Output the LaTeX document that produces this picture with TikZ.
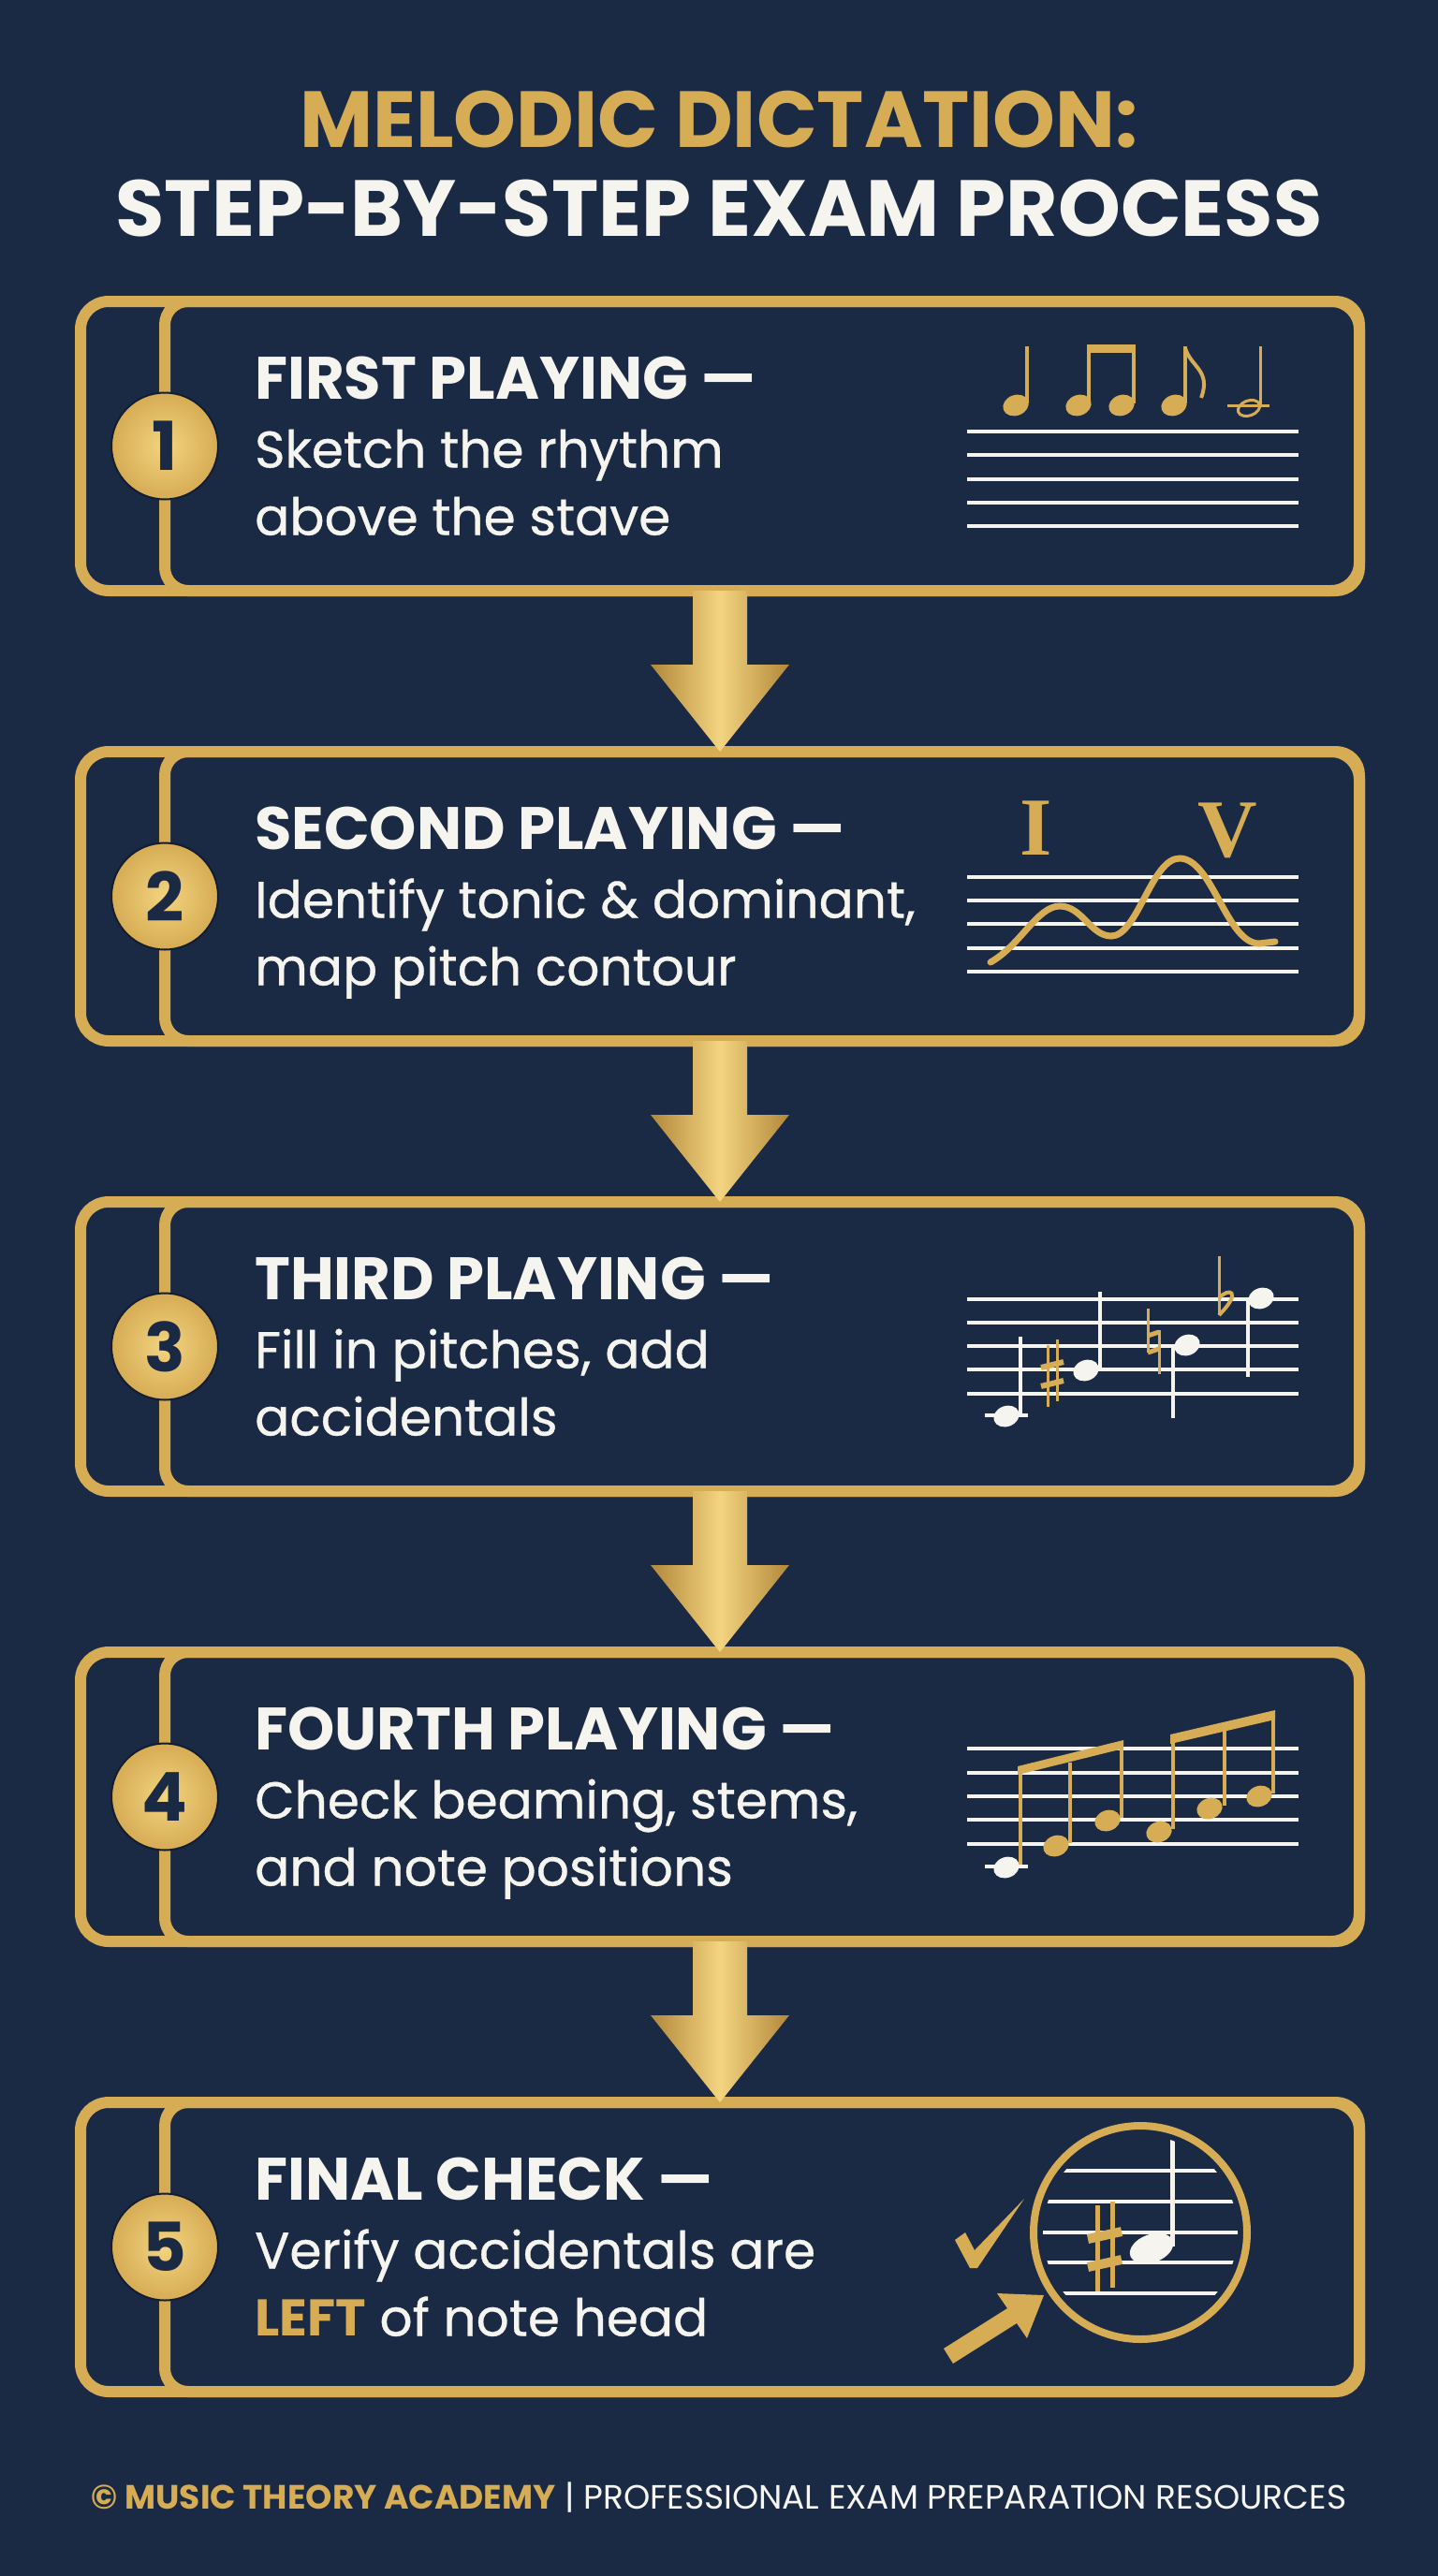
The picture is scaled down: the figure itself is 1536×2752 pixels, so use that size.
\documentclass[tikz,border=0pt]{standalone}
\usepackage{fontspec}
\setmainfont{Poppins}
\newfontfamily\medio{Poppins}[FakeBold=0.6]
\newfontfamily\serifa{Liberation Serif}
\usetikzlibrary{calc,positioning}
\definecolor{fondo}{RGB}{27,42,68}
\definecolor{oro}{RGB}{214,172,84}
\definecolor{oroclaro}{RGB}{243,212,128}
\definecolor{orooscuro}{RGB}{178,136,58}
\definecolor{blanco}{RGB}{246,244,238}
\newcommand\cabezanota[2]{\fill[#1, rotate around={20:(#2)}] (#2) ellipse (14 and 11);}
\begin{document}
\begin{tikzpicture}[x=1pt,y=-1pt,
    caja/.style={draw=oro,line width=12pt,rounded corners=30pt,minimum width=1366pt,minimum height=309pt,inner sep=0pt,outer sep=0pt},
    marco/.style={draw=oro,line width=12pt,rounded corners=25pt},
    numero/.style={circle,minimum size=114pt,inner sep=0pt,draw=fondo!70!black,line width=2pt,inner color=oroclaro,outer color=oro,text=fondo,font=\fontsize{72}{72}\selectfont\bfseries},
    cabeza/.style={anchor=base west,inner sep=0pt,text=blanco,font=\fontsize{64}{70}\selectfont\bfseries},
    texto/.style={anchor=base west,inner sep=0pt,text=blanco,font=\medio\fontsize{55}{64}\selectfont},
    flecha/.style={left color=orooscuro,right color=orooscuro,middle color=oroclaro},
    linea/.style={draw=blanco,line width=4pt},
    plica/.style={line width=4pt},
    simbolo/.style={draw=oro,line cap=butt}]
    %fondo
    \fill[fondo] (0,0) rectangle (1536,2752);
    \useasboundingbox (0,0) rectangle (1536,2752);
    %%%% TITULO!!!
    \node[anchor=base,text=oro,font=\fontsize{85}{88}\selectfont\bfseries] (titulo) at (768,157) {MELODIC DICTATION:};
    \node[anchor=base,text=blanco,font=\fontsize{85}{88}\selectfont\bfseries] (subtitulo) at (768,252) {STEP-BY-STEP EXAM PROCESS};
    %%%% CAJAS!!!
    \foreach \i/\cab/\la/\lb in {
        1/{FIRST PLAYING —}/{Sketch the rhythm}/{above the stave},
        2/{SECOND PLAYING —}/{Identify tonic \& dominant,}/{map pitch contour},
        3/{THIRD PLAYING —}/{Fill in pitches, add}/{accidentals},
        4/{FOURTH PLAYING —}/{Check beaming, stems,}/{and note positions},
        5/{FINAL CHECK —}/{Verify accidentals are}/{{\color{oro}\normalfont\fontsize{55}{64}\selectfont\bfseries LEFT} of note head}}
    {
        \pgfmathsetmacro\yc{476.5+481*(\i-1)}
        \node[caja] (caja\i) at (769,\yc) {};
        \draw[marco] ([xshift=90pt]caja\i.north west) rectangle (caja\i.south east);
        \node[numero] (num\i) at ([xshift=90pt]caja\i.west) {\i};
        \node[cabeza] (cab\i) at (272,\yc-50) {\cab};
        \node[texto] (txa\i) at (272,\yc+23) {\la};
        \node[texto] (txb\i) at (272,\yc+95) {\lb};
    }
    %%%% FLECHAS!!!
    \foreach \a/\b in {1/2,2/3,3/4,4/5}
        \shade[flecha] ($(caja\a.south)+(-29,0)$) -- ($(caja\a.south)+(29,0)$) -- ($(caja\a.south)+(29,79)$) -- ($(caja\a.south)+(74,79)$) -- (caja\b.north) -- ($(caja\a.south)+(-74,79)$) -- ($(caja\a.south)+(-29,79)$) -- cycle;
    %%%% DIBUJO 1: ritmo
    \foreach \y in {461,486,512,537,562} \draw[linea] (1033,\y) -- (1387,\y);
    \cabezanota{oro}{1085,433}
    \draw[oro,plica] (1097,370) -- (1097,431);
    \cabezanota{oro}{1152,433}
    \cabezanota{oro}{1198,433}
    \draw[oro,plica] (1163,372) -- (1163,431);
    \draw[oro,plica] (1211,372) -- (1211,431);
    \fill[oro] (1161,368) rectangle (1213,377);
    \cabezanota{oro}{1254,433}
    \draw[oro,plica] (1266,370) -- (1266,431);
    \draw[oro,line width=4pt] (1266,372) .. controls (1272,392) and (1294,396) .. (1283,425);
    \draw[oro,line width=3pt,rotate around={20:(1334,436)}] (1334,436) ellipse (12 and 8);
    \draw[oro,line width=3pt] (1311,433) -- (1356,433);
    \draw[oro,line width=3pt] (1346,370) -- (1346,434);
    %%%% DIBUJO 2: contorno
    \foreach \y in {937,962,987,1013,1038} \draw[linea] (1033,\y) -- (1387,\y);
    \node[anchor=base,text=oro,font=\serifa\bfseries\fontsize{88}{88}\selectfont,inner sep=0pt] (tonica) at (1107,913) {I};
    \node[anchor=base,text=oro,font=\serifa\bfseries\fontsize{88}{88}\selectfont,inner sep=0pt] (dominante) at (1311,915) {V};
    \draw[oro,line width=7pt,line cap=round] (1058,1028) .. controls (1090,1010) and (1108,968) .. (1132,968) .. controls (1156,968) and (1165,1000) .. (1187,1000) .. controls (1215,1000) and (1230,917) .. (1260,917) .. controls (1295,917) and (1310,1008) .. (1345,1008) -- (1362,1006);
    %%%% DIBUJO 3: alteraciones
    \foreach \y in {1388,1413,1438,1463,1489} \draw[linea] (1033,\y) -- (1387,\y);
    \draw[linea] (1052,1512) -- (1098,1512);
    \cabezanota{blanco}{1075,1513}
    \draw[blanco,plica] (1090,1428) -- (1090,1510);
    \cabezanota{blanco}{1160,1464}
    \draw[blanco,plica] (1175,1380) -- (1175,1461);
    \cabezanota{blanco}{1268,1437}
    \draw[blanco,plica] (1253,1440) -- (1253,1515);
    \cabezanota{blanco}{1347,1387}
    \draw[blanco,plica] (1333,1390) -- (1333,1471);
    %sostenido
    \begin{scope}[shift={(1124,1467)}]
        \draw[simbolo,line width=3pt] (-5,-30) -- (-5,36);
        \draw[simbolo,line width=3pt] (5,-36) -- (5,30);
        \draw[simbolo,line width=6pt] (-12,-6) -- (12,-12);
        \draw[simbolo,line width=6pt] (-12,14) -- (12,8);
    \end{scope}
    %becuadro
    \begin{scope}[shift={(1232,1433)}]
        \draw[simbolo,line width=3pt] (-6,-35) -- (-6,12);
        \draw[simbolo,line width=3pt] (6,-12) -- (6,35);
        \draw[simbolo,line width=5pt] (-6,-6) -- (6,-10);
        \draw[simbolo,line width=5pt] (-6,12) -- (6,8);
    \end{scope}
    %bemol
    \begin{scope}[shift={(1310,1375)}]
        \draw[simbolo,line width=3pt] (-8,-33) -- (-8,30);
        \draw[simbolo,line width=4pt] (-8,12) .. controls (2,0) and (18,4) .. (-8,30);
    \end{scope}
    %%%% DIBUJO 4: barras
    \foreach \y in {1868,1894,1919,1944,1970} \draw[linea] (1033,\y) -- (1387,\y);
    \draw[linea] (1052,1994) -- (1098,1994);
    \cabezanota{blanco}{1075,1995}
    \draw[oro,plica] (1090,1887) -- (1090,1992);
    \cabezanota{oro}{1128,1972}
    \draw[oro,plica] (1143,1883) -- (1143,1969);
    \cabezanota{oro}{1183,1945}
    \draw[oro,plica] (1198,1862) -- (1198,1942);
    \fill[oro] (1087,1887) -- (1200,1859) -- (1200,1868) -- (1087,1896) -- cycle;
    \cabezanota{oro}{1238,1957}
    \draw[oro,plica] (1253,1853) -- (1253,1954);
    \cabezanota{oro}{1292,1932}
    \draw[oro,plica] (1308,1840) -- (1308,1929);
    \cabezanota{oro}{1345,1919}
    \draw[oro,plica] (1360,1829) -- (1360,1916);
    \fill[oro] (1250,1853) -- (1362,1827) -- (1362,1837) -- (1250,1863) -- cycle;
    %%%% DIBUJO 5: lupa
    \begin{scope}
        \clip (1218,2385) circle (104);
        \foreach \y in {2319,2352,2385,2417,2450} \draw[linea] (1100,\y) -- (1340,\y);
        \draw[blanco,line width=5pt] (1252,2270) -- (1252,2400);
    \end{scope}
    \fill[blanco, rotate around={20:(1230,2402)}] (1230,2402) ellipse (24 and 15);
    \begin{scope}[shift={(1180,2400)}]
        \draw[simbolo,line width=5pt] (-8,-44) -- (-8,48);
        \draw[simbolo,line width=5pt] (8,-48) -- (8,44);
        \draw[simbolo,line width=10pt] (-18,-8) -- (18,-16);
        \draw[simbolo,line width=10pt] (-18,22) -- (18,14);
    \end{scope}
    \draw[oro,line width=8pt] (1218,2385) circle (114);
    %visto
    \fill[oro] (1020,2393) -- (1031,2385) -- (1041,2404) -- (1094,2349) -- (1044,2423) -- (1036,2423) -- cycle;
    %flecha lupa
    \fill[oro] (1008,2509) -- (1076,2466) -- (1065,2450) -- (1115,2452) -- (1097,2498) -- (1086,2482) -- (1018,2525) -- cycle;
    %%%% PIE!!!
    \node[anchor=base,inner sep=0pt,text=blanco,font=\fontsize{36}{40}\selectfont] (pie) at (768,2680) {{\color{oro}\bfseries © MUSIC THEORY ACADEMY} | PROFESSIONAL EXAM PREPARATION RESOURCES};
\end{tikzpicture}
\end{document}
